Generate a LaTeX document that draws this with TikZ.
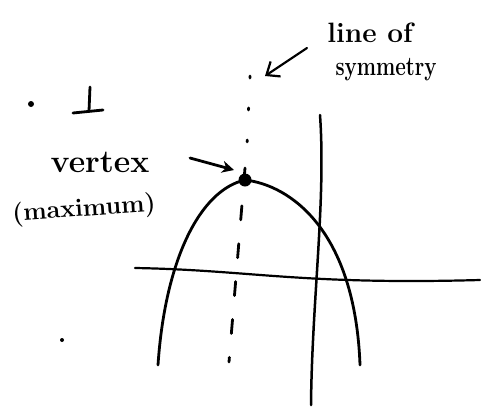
\documentclass[tikz,border=0pt]{standalone}
\usetikzlibrary{arrows.meta}
\begin{document}
\begin{tikzpicture}[x=1pt,y=-1pt,line cap=round,line join=round]
\tikzset{
  pen/.style={line width=2.8pt,black},
  lbl/.style={inner sep=0pt},
  speck/.style={circle,fill=black,inner sep=0pt,minimum size=5pt}
}
\useasboundingbox (0,0) rectangle (481,407);
% axes
\coordinate (xl) at (135,268);
\coordinate (xr) at (480,280);
\coordinate (yt) at (320,115);
\coordinate (yb) at (311,405);
\draw[pen,line width=2.2pt] (xl) .. controls (250,270) and (300,285) .. (xr);
\draw[pen,line width=2.5pt] (yt) .. controls (326,200) and (312,300) .. (yb);
% parabola
\node[circle,fill=black,minimum width=10pt,minimum height=13pt,inner sep=0pt] (vtx) at (245,180) {};
\coordinate (pl) at (158,365);
\coordinate (pr) at (360,365);
\draw[pen] (pl) .. controls (165,260) and (200,190) .. (vtx.center)
           .. controls (290,185) and (355,230) .. (pr);
% line of symmetry (dashed)
\coordinate (st) at (250,76);
\coordinate (sm) at (246,168);
\coordinate (sb) at (229,362);
\draw[pen,dash pattern=on 2pt off 30pt] (st) -- (sm);
\draw[pen,dash pattern=on 14pt off 24pt] ([yshift=12pt]vtx.center) -- (sb);
% labels
\node[lbl,font=\bfseries\fontsize{28}{30}\selectfont] (los1) at (370,33) {line of};
\node[lbl,font=\bfseries\fontsize{27}{29}\selectfont,xscale=0.76] (los2) at (386,70) {symmetry};
\coordinate (a1s) at (307,48);
\coordinate (a1e) at (265,76);
\draw[pen,line width=2.2pt,-{Straight Barb[length=11pt,width=18pt]}] (a1s) -- (a1e);
\node[lbl,font=\bfseries\fontsize{32}{34}\selectfont] (vlab) at (100,162) {vertex};
\node[lbl,font=\bfseries\fontsize{25}{27}\selectfont,rotate=4] (mlab) at (84,210) {(maximum)};
\coordinate (a2s) at (190,158);
\coordinate (a2e) at (234,170);
\draw[pen,-{Stealth[length=12pt,width=12pt]}] (a2s) -- (a2e);
% stray marks
\coordinate (pt) at (90,87);
\coordinate (pb) at (89,111);
\coordinate (pbl) at (73,113);
\coordinate (pbr) at (103,110);
\draw[pen] (pt) -- (pb);
\draw[pen] (pbl) -- (pbr);
\node[speck,minimum size=6pt] (d1) at (31,104) {};
\node[speck,minimum size=4pt] (d2) at (62,340) {};
\end{tikzpicture}
\end{document}
